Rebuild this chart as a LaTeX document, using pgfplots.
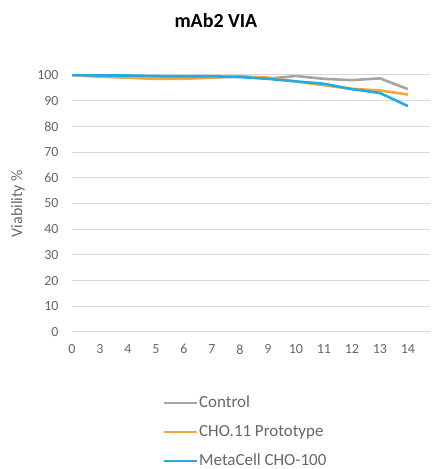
\documentclass[border=0pt]{standalone}
\usepackage{pgfplots}
\pgfplotsset{compat=1.18}
\usepackage{fontspec}
\setmainfont{Carlito}
\definecolor{gridc}{HTML}{D9D9D9}
\definecolor{txtc}{HTML}{666666}
\definecolor{ctrl}{HTML}{A5A5A5}
\definecolor{orng}{HTML}{F5A83A}
\definecolor{blu}{HTML}{27A9E1}
\begin{document}
\begin{tikzpicture}[x=1bp,y=1bp]
\path[use as bounding box] (0,0) rectangle (431,469);
\begin{axis}[
  at={(72bp,137bp)}, anchor=south west,
  scale only axis, width=358bp, height=257bp,
  xmin=0, xmax=12.79, ymin=0, ymax=100,
  xtick={0,...,12}, xticklabels={0,3,4,5,6,7,8,9,10,11,12,13,14},
  ytick={0,10,...,100},
  axis x line*=bottom, axis y line*=left,
  axis line style={draw=none},
  ymajorgrids, grid style={gridc, line width=1bp},
  major tick length=0pt,
  tick label style={font=\fontsize{14}{16}\selectfont, text=txtc},
  /pgf/number format/assume math mode=true,
  yticklabel style={xshift=-10bp},
  xticklabel style={yshift=-9bp},
  ylabel={Viability \%},
  ylabel style={font=\fontsize{16}{18}\selectfont, text=txtc, at={(rel axis cs:-0.151,0.5)}, anchor=center},
  title={mAb2 VIA},
  title style={font=\fontsize{20}{22}\selectfont\bfseries, at={(rel axis cs:0.402,1.19)}, anchor=center},
  legend style={draw=none, fill=none, at={(rel axis cs:0.2458,-0.237)}, anchor=north west,
    font=\fontsize{17}{19}\selectfont, text=txtc, row sep=13bp,
    nodes={inner sep=1bp, text height=11bp, text depth=3bp}},
  legend cell align=left,
  legend image code/.code={\draw[#1, line width=2bp] (0bp,0bp) -- (33bp,0bp);},
  every axis plot/.append style={line width=2.6bp, line join=round},
]
\addplot[gridc, line width=1.2bp, forget plot] coordinates {(0,0) (12.79,0)};
\addplot[ctrl] coordinates {(0,100) (1,99.5) (2,99) (3,98.6) (4,98.8) (5,99) (6,99.4) (7,98.6) (8,99.6) (9,98.5) (10,98) (11,98.7) (12,94.5)};
\addlegendentry{Control}
\addplot[orng] coordinates {(0,100) (1,99.3) (2,99) (3,98.5) (4,98.5) (5,99) (6,99.5) (7,99) (8,97.5) (9,96) (10,94.6) (11,94) (12,92.4)};
\addlegendentry{CHO.11 Prototype}
\addplot[blu] coordinates {(0,100) (1,99.8) (2,99.8) (3,99.6) (4,99.5) (5,99.5) (6,99.2) (7,98.5) (8,97.5) (9,96.6) (10,94.5) (11,93) (12,87.9)};
\addlegendentry{MetaCell CHO-100}
\end{axis}
\end{tikzpicture}
\end{document}
